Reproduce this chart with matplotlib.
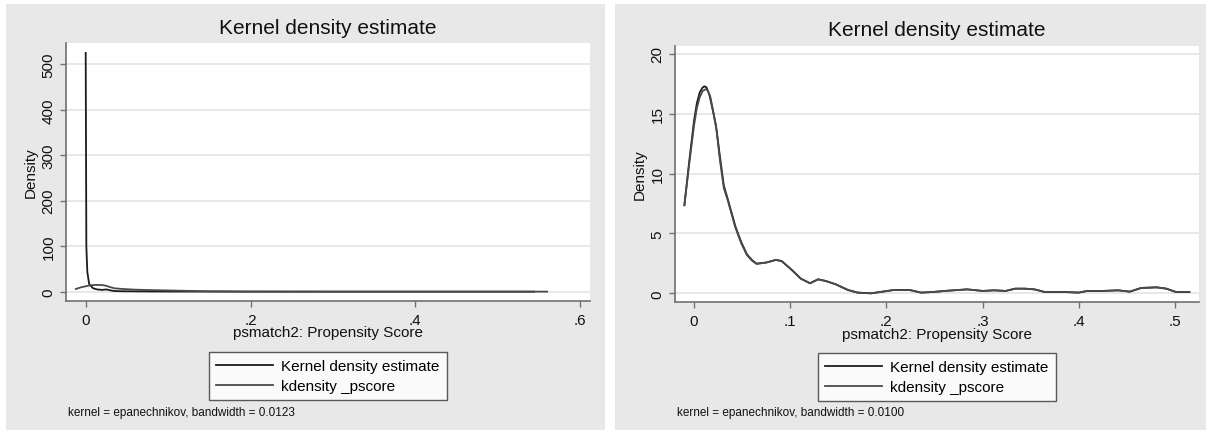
import matplotlib
matplotlib.use("Agg")
import matplotlib.pyplot as plt
from matplotlib.patches import Rectangle

plt.rcParams['font.family'] = ['Liberation Sans', 'DejaVu Sans']

# ---------------- data ----------------
title_text = "Kernel density estimate"
xlabel_text = "psmatch2: Propensity Score"
ylabel_text = "Density"
legend_labels = ["Kernel density estimate", "kdensity _pscore"]
notes = ["kernel = epanechnikov, bandwidth = 0.0123",
         "kernel = epanechnikov, bandwidth = 0.0100"]

# left panel
left_kde_x = [0.0, 0.0008, 0.002, 0.0042, 0.009, 0.014, 0.02, 0.025, 0.03,
              0.035, 0.045, 0.06, 0.08, 0.1, 0.15, 0.2, 0.3, 0.4, 0.5, 0.544]
left_kde_y = [525, 98, 43, 17, 7.5, 5, 4, 5, 3,
              1.5, 1, 0.8, 0.5, 0.4, 0.3, 0.2, 0.1, 0.1, 0.1, 0.1]
left_ps_x = [-0.012, -0.006, 0.0, 0.005, 0.012, 0.02, 0.025, 0.03, 0.035,
             0.045, 0.06, 0.08, 0.1, 0.12, 0.15, 0.2, 0.25, 0.3, 0.4, 0.5, 0.56]
left_ps_y = [6, 9.5, 12, 14, 15, 14.7, 13, 10, 7.5,
             6, 4.5, 3.5, 2.8, 2, 1, 0.4, 0.3, 0.3, 0.3, 0.3, 0.2]
left_xticks = [0, 0.2, 0.4, 0.6]
left_xticklabels = ["0", ".2", ".4", ".6"]
left_yticks = [0, 100, 200, 300, 400, 500]

# right panel
right_kde_x = [-0.01, -0.005, 0.0, 0.003, 0.006, 0.009, 0.011, 0.013, 0.016,
               0.019, 0.0229, 0.027, 0.031, 0.035,
               0.043, 0.049, 0.055, 0.06, 0.065, 0.075, 0.085, 0.091, 0.099,
               0.105, 0.111, 0.1206,
               0.129, 0.137, 0.1475, 0.16, 0.17, 0.184, 0.196, 0.208, 0.224,
               0.236, 0.248, 0.264, 0.284, 0.30, 0.312, 0.324, 0.334, 0.344,
               0.354, 0.3646, 0.385, 0.40, 0.409, 0.425, 0.441, 0.453, 0.465,
               0.481, 0.491, 0.501, 0.515]
right_kde_y = [7.36, 11.0, 14.4, 15.9, 16.8, 17.2, 17.3, 17.2, 16.6,
               15.5, 14.0, 11.4, 9.0, 7.9,
               5.6, 4.3, 3.26, 2.8, 2.48, 2.57, 2.79, 2.7, 2.15,
               1.7, 1.23, 0.84,
               1.17, 1.03, 0.75, 0.28, 0.06, 0.0, 0.14, 0.28, 0.28,
               0.06, 0.11, 0.22, 0.33, 0.2, 0.25, 0.2, 0.39, 0.39,
               0.33, 0.11, 0.11, 0.06, 0.2, 0.2, 0.25, 0.14, 0.45,
               0.5, 0.39, 0.11, 0.11]
right_ps_x = [-0.01, -0.005, 0.0, 0.003, 0.006, 0.009, 0.012, 0.014, 0.017,
              0.020, 0.0235, 0.027, 0.031, 0.035,
              0.043, 0.049, 0.055, 0.06, 0.065, 0.075, 0.085, 0.091, 0.099,
              0.105, 0.111, 0.1206,
              0.129, 0.137, 0.1475, 0.16, 0.17, 0.184, 0.196, 0.208, 0.224,
              0.236, 0.248, 0.264, 0.284, 0.30, 0.312, 0.324, 0.334, 0.344,
              0.354, 0.3646, 0.385, 0.40, 0.409, 0.425, 0.441, 0.453, 0.465,
              0.481, 0.491, 0.501, 0.515]
right_ps_y = [7.36, 10.8, 14.0, 15.5, 16.4, 16.9, 17.05, 17.0, 16.4,
              15.2, 13.6, 11.1, 8.8, 7.8,
              5.5, 4.2, 3.2, 2.75, 2.46, 2.57, 2.79, 2.7, 2.15,
              1.7, 1.23, 0.84,
              1.17, 1.03, 0.75, 0.28, 0.06, 0.0, 0.14, 0.28, 0.28,
              0.06, 0.11, 0.22, 0.33, 0.2, 0.25, 0.2, 0.39, 0.39,
              0.33, 0.11, 0.11, 0.06, 0.2, 0.2, 0.25, 0.14, 0.45,
              0.5, 0.39, 0.11, 0.11]
right_xticks = [0, 0.1, 0.2, 0.3, 0.4, 0.5]
right_xticklabels = ["0", ".1", ".2", ".3", ".4", ".5"]
right_yticks = [0, 5, 10, 15, 20]

# ---------------- figure ----------------
W, H = 1206, 431
fig = plt.figure(figsize=(W / 100, H / 100), dpi=100)
fig.patch.set_facecolor("white")

BG = "#e8e8e8"
AX_COL = "#707070"
GRID_COL = "#e6e6e6"
C1 = "#1c1c1c"
C2 = "#4a4a4a"


def px_rect(x0, y0, x1, y1):
    return [x0 / W, 1 - y1 / H, (x1 - x0) / W, (y1 - y0) / H]


for (x0, y0, x1, y1) in [(6, 5, 605, 431), (615, 5, 1206, 431)]:
    r = px_rect(x0, y0, x1, y1)
    fig.patches.append(Rectangle((r[0], r[1]), r[2], r[3], transform=fig.transFigure,
                                 facecolor=BG, edgecolor="none", zorder=-10))


def make_panel(rect, kx, ky, px, py, xticks, xtl, yticks, xlim, ylim, note, note_x):
    ax = fig.add_axes(px_rect(*rect))
    ax.set_zorder(1)
    ax.set_facecolor("white")
    ax.plot(kx, ky, color=C1, lw=1.3, label=legend_labels[0], zorder=3)
    ax.plot(px, py, color=C2, lw=1.3, label=legend_labels[1], zorder=3)
    ax.set_xlim(*xlim)
    ax.set_ylim(*ylim)
    ax.set_xticks(xticks)
    ax.set_xticklabels(xtl)
    ax.set_yticks(yticks)
    ax.set_yticklabels([str(v) for v in yticks], rotation=90, va="center")
    ax.grid(axis="y", color=GRID_COL, lw=1.3)
    ax.set_axisbelow(True)
    for s in ["top", "right"]:
        ax.spines[s].set_visible(False)
    for s in ["left", "bottom"]:
        ax.spines[s].set_color(AX_COL)
        ax.spines[s].set_linewidth(1.2)
    ax.tick_params(axis="both", direction="out", length=4.5, width=1,
                   color=AX_COL, labelsize=11, labelcolor="#111111")
    ax.tick_params(axis="y", pad=3)
    ax.tick_params(axis="x", pad=4)
    ax.set_title(title_text, fontsize=15, pad=7.5, color="#111111")
    ax.set_xlabel(xlabel_text, fontsize=11, color="#111111")
    ax.xaxis.label.set_va("center")
    ax.xaxis.set_label_coords(0.5, -0.122)
    ax.set_ylabel(ylabel_text, fontsize=11, color="#111111")
    ax.yaxis.label.set_va("center")
    ax.yaxis.set_label_coords(-0.068, 0.5)
    leg = ax.legend(loc="upper center", bbox_to_anchor=(0.5, -0.197), ncol=1,
                    fontsize=11, frameon=True, fancybox=False, handlelength=3.7,
                    handletextpad=0.55, borderpad=0.48, labelspacing=0.38,
                    borderaxespad=0)
    leg.get_frame().set_edgecolor("#333333")
    leg.get_frame().set_linewidth(1.0)
    leg.get_frame().set_facecolor("white")
    fig.text(note_x / W, 1 - 413 / H, note, fontsize=8.5, va="center", ha="left",
             color="#111111")
    return ax


make_panel((66, 44, 590, 302), left_kde_x, left_kde_y, left_ps_x, left_ps_y,
           left_xticks, left_xticklabels, left_yticks,
           (-0.0239, 0.612), (-20.4, 546.8), notes[0], 68)
make_panel((675, 46.7, 1199, 303.3), right_kde_x, right_kde_y, right_ps_x, right_ps_y,
           right_xticks, right_xticklabels, right_yticks,
           (-0.01975, 0.525), (-0.75, 20.69), notes[1], 677)

fig.savefig("out.png", dpi=100)
